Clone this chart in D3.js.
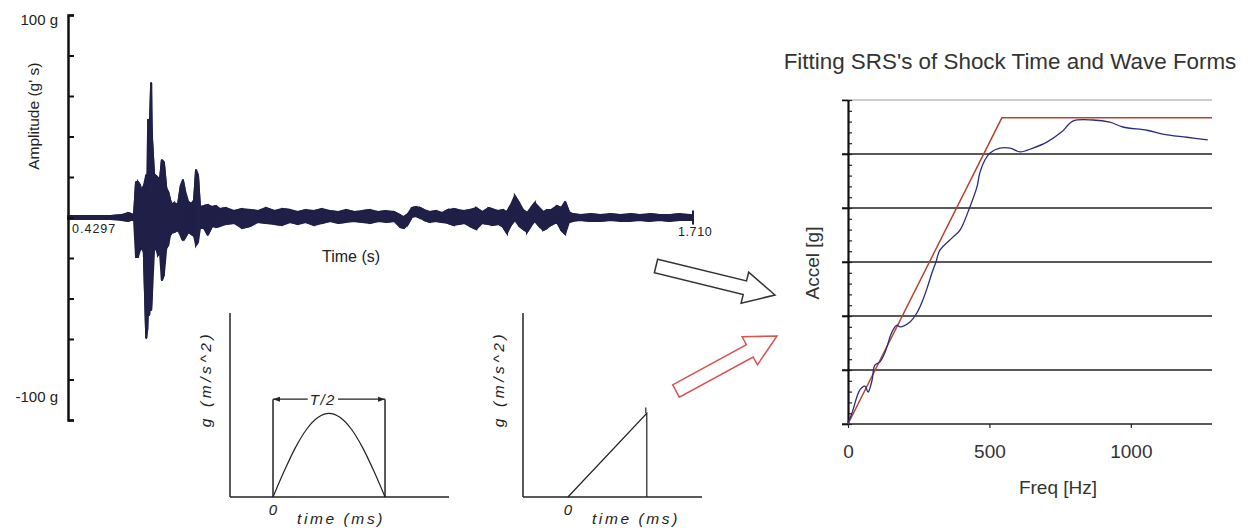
<!DOCTYPE html>
<html>
<head>
<meta charset="utf-8">
<script src="https://cdn.jsdelivr.net/npm/d3@7"></script>
<style>
  body { margin: 0; background: #fff; }
  svg { display: block; }
  text { font-family: "Liberation Sans", Arial, sans-serif; }
</style>
</head>
<body>
<div class="chart"></div>
<script>
// shock time history: time (s), upper / lower swing of the trace (g)
var sigT = [0.430, 0.454, 0.485, 0.516, 0.540, 0.553, 0.559, 0.565,
  0.569, 0.573, 0.577, 0.581, 0.585, 0.590, 0.592, 0.594, 0.596, 0.598, 0.600, 0.602,
  0.606, 0.610, 0.614, 0.618, 0.622, 0.626, 0.631, 0.635, 0.639, 0.643, 0.647, 0.655,
  0.661, 0.665, 0.669, 0.676, 0.682, 0.688, 0.692, 0.696, 0.700, 0.708, 0.716, 0.725,
  0.733, 0.741, 0.753, 0.770, 0.786, 0.803, 0.819, 0.835, 0.852, 0.868, 0.885, 0.901,
  0.917, 0.934, 0.950, 0.966, 0.983, 0.999, 1.016, 1.032, 1.048, 1.065, 1.081, 1.098,
  1.110, 1.118, 1.126, 1.134, 1.143, 1.151, 1.159, 1.171, 1.184, 1.196, 1.208, 1.220,
  1.229, 1.241, 1.253, 1.266, 1.278, 1.291, 1.298, 1.311, 1.321, 1.329, 1.337, 1.345,
  1.354, 1.362, 1.370, 1.378, 1.386, 1.395, 1.403, 1.411, 1.419, 1.431, 1.440, 1.448,
  1.456, 1.464, 1.479, 1.499, 1.520, 1.540, 1.561, 1.581, 1.601, 1.622, 1.642, 1.663,
  1.683, 1.704, 1.710];
var sigHi = [0.7, 0.7, 0.7, 0.7, 1.2, 2.2, 1.7, 1.2,
  17.5, 17.5, 16.0, 13.6, 15.6, 21.0, 18.5, 48.1, 48.1, 49.1, 66.4, 38.3,
  21.0, 20.5, 19.5, 18.5, 28.4, 27.4, 14.6, 12.6, 8.6, 6.2, 7.2, 6.2,
  16.0, 18.5, 13.6, 7.7, 6.7, 8.6, 23.5, 21.0, 5.2, 5.7, 6.2, 5.2,
  5.7, 4.2, 4.7, 3.2, 4.2, 3.7, 3.2, 4.7, 3.2, 4.2, 3.7, 2.7,
  3.7, 3.2, 4.2, 3.2, 2.7, 3.7, 2.7, 3.2, 3.7, 2.7, 3.2, 2.7,
  1.2, 0.2, 1.7, 4.7, 5.2, 4.7, 3.7, 2.7, 3.2, 2.2, 3.7, 4.2,
  3.7, 3.2, 3.7, 4.7, 2.7, 4.7, 4.2, 3.2, 3.7, 2.7, 6.2, 10.6,
  7.2, 3.7, 2.2, 4.7, 7.2, 4.7, 2.7, 3.7, 3.7, 5.7, 4.7, 7.7,
  2.7, 1.7, 1.2, 1.7, 1.2, 1.7, 1.2, 1.7, 1.2, 1.7, 1.2, 1.2,
  1.7, 1.2, 1.2];
var sigLo = [-0.7, -0.7, -0.7, -0.7, -1.2, -1.7, -1.2, -1.2,
  -19.5, -19.5, -16.0, -15.1, -17.0, -59.5, -55.6, -40.7, -48.1, -40.7, -45.7, -35.8,
  -16.0, -15.1, -18.5, -17.0, -30.9, -28.4, -15.1, -13.6, -8.6, -7.2, -7.2, -6.2,
  -9.1, -11.1, -10.1, -7.2, -8.1, -9.1, -13.6, -12.1, -5.2, -5.2, -8.6, -4.2,
  -4.7, -4.2, -3.2, -2.7, -5.2, -4.2, -2.2, -2.7, -3.2, -3.7, -2.2, -3.2,
  -2.2, -3.7, -2.7, -1.7, -2.7, -2.2, -1.7, -2.2, -2.7, -1.7, -2.2, -1.7,
  -4.7, -5.2, -3.2, 0.2, 0.7, -0.2, -1.2, -2.2, -1.7, -2.2, -2.7, -3.7,
  -3.2, -2.7, -4.2, -5.7, -2.7, -3.2, -3.7, -3.2, -4.7, -7.7, -3.7, -1.2,
  -4.2, -5.7, -7.2, -4.2, -1.7, -4.2, -6.2, -5.2, -3.7, -2.2, -6.2, -8.1,
  -2.2, -1.7, -1.2, -1.7, -1.7, -1.2, -1.7, -1.7, -1.2, -1.7, -1.2, -1.7,
  -1.2, -1.2, -1.2];
var ampTicks = [-100, -80, -60, -40, -20, 0, 20, 40, 60, 80, 100];
var timeLabels = ["0.4297", "1.710"];

// half-sine pulse (fraction of T/2, fraction of peak)
var sineT = [0, 0.1, 0.2, 0.3, 0.4, 0.5, 0.6, 0.7, 0.8, 0.9, 1];
var sineG = [0, 0.31, 0.59, 0.81, 0.95, 1.0, 0.95, 0.81, 0.59, 0.31, 0];

// terminal-peak sawtooth
var sawT = [0, 1, 1];
var sawG = [0, 1, 0];

// SRS: measured (blue) and fitted envelope (red)
var srsFreq = [0, 14, 42, 60, 71, 85, 95, 113, 131, 155, 173, 184, 219, 244, 265, 283, 297,
  311, 325, 371, 396, 431, 456, 466, 484, 502, 537, 573, 608, 654, 703, 756, 795, 866, 926,
  972, 1057, 1113, 1198, 1272];
var srsAccel = [0.02, 0.20, 0.63, 0.70, 0.59, 0.81, 1.09, 1.15, 1.33, 1.70, 1.83, 1.80, 1.89,
  2.06, 2.30, 2.57, 2.80, 3.00, 3.22, 3.46, 3.59, 4.02, 4.39, 4.65, 4.89, 5.02, 5.11, 5.11,
  5.04, 5.11, 5.22, 5.41, 5.61, 5.63, 5.59, 5.50, 5.44, 5.37, 5.31, 5.26];
var fitFreq = [0, 544, 1287];
var fitAccel = [0, 5.67, 5.67];
var freqTicks = [0, 500, 1000];
var accelGrid = [0, 1, 2, 3, 4, 5, 6];

var svg = d3.select(".chart").append("svg")
  .attr("width", 1250).attr("height", 528)
  .style("background", "#fff");

//---- time history
var x1 = d3.scaleLinear().domain([0.4297, 1.710]).range([68, 693]);
var y1 = d3.scaleLinear().domain([-100, 100]).range([420, 15]);
var sig = sigT.map(function(t, i) { return { t: t, hi: sigHi[i], lo: sigLo[i] }; });
var ink = "#1f1f48";

svg.append("path").datum(sig)
  .attr("d", d3.area().x(d => x1(d.t)).y0(d => y1(d.lo)).y1(d => y1(d.hi)))
  .attr("fill", ink).attr("stroke", ink).attr("stroke-width", 2)
  .attr("stroke-linejoin", "round");

var zig = [];
sig.forEach(function(d, i) {
  zig.push([d.t, i % 2 ? d.lo : d.hi]);
  zig.push([d.t, i % 2 ? d.hi : d.lo]);
});
svg.append("path").datum(zig)
  .attr("d", d3.line().x(d => x1(d[0])).y(d => y1(d[1])))
  .attr("fill", "none").attr("stroke", ink).attr("stroke-width", 2);

svg.append("line")
  .attr("x1", x1(1.710)).attr("x2", x1(1.710))
  .attr("y1", y1(3.5)).attr("y2", y1(-3.5))
  .attr("stroke", ink).attr("stroke-width", 2);

var ax1 = svg.append("g").attr("transform", "translate(" + x1.range()[0] + ",0)")
  .call(d3.axisRight(y1).tickValues(ampTicks).tickSize(6).tickFormat(""));
ax1.select(".domain").attr("stroke", "#111").attr("stroke-width", 2.5);
ax1.selectAll(".tick line").attr("stroke", "#111").attr("stroke-width", 2);

svg.append("text").attr("x", 58).attr("y", y1(100) + 10)
  .attr("text-anchor", "end").attr("font-size", 15).attr("fill", "#222").text("100 g");
svg.append("text").attr("x", 58).attr("y", y1(-88) + 6)
  .attr("text-anchor", "end").attr("font-size", 15).attr("fill", "#222").text("-100 g");
svg.append("text")
  .attr("transform", "translate(39," + y1(50) + ") rotate(-90)")
  .attr("text-anchor", "middle").attr("font-size", 15.5).attr("fill", "#222")
  .text("Amplitude (g' s)");
svg.append("text").attr("x", x1(0.4297) + 4).attr("y", y1(0) + 15)
  .attr("font-family", "'Liberation Serif', serif").attr("font-size", 12.5)
  .attr("letter-spacing", 1).attr("fill", "#222").text(timeLabels[0]);
svg.append("text").attr("x", x1(1.710) - 15).attr("y", y1(0) + 18)
  .attr("font-family", "'Liberation Serif', serif").attr("font-size", 12.5)
  .attr("letter-spacing", 0.6).attr("fill", "#222").text(timeLabels[1]);
svg.append("text").attr("x", 351).attr("y", 262)
  .attr("text-anchor", "middle").attr("font-size", 16).attr("fill", "#222").text("Time (s)");

//---- pulse insets
var ys = d3.scaleLinear().domain([0, 2.2]).range([497, 313]);
var xs1 = d3.scaleLinear().domain([-0.384, 1.571]).range([230, 449]);
var xs2 = d3.scaleLinear().domain([-0.57, 1.70]).range([523, 702]);

function inset(xs, labelX) {
  var g = svg.append("g").attr("stroke", "#222").attr("fill", "none").attr("stroke-width", 1.5);
  g.append("line").attr("x1", xs.range()[0]).attr("x2", xs.range()[0])
    .attr("y1", ys.range()[0]).attr("y2", ys.range()[1]);
  g.append("line").attr("x1", xs.range()[0]).attr("x2", xs.range()[1])
    .attr("y1", ys.range()[0]).attr("y2", ys.range()[0]);
  var lab = svg.append("g").attr("fill", "#222")
    .attr("font-family", "'DejaVu Sans', sans-serif").attr("font-style", "italic");
  lab.append("text").attr("x", xs(0)).attr("y", 515)
    .attr("text-anchor", "middle").attr("font-size", 15).text("0");
  lab.append("text").attr("x", xs(0) + 24).attr("y", 524)
    .attr("font-size", 15.5).attr("letter-spacing", 2.6).text("time (ms)");
  lab.append("text")
    .attr("transform", "translate(" + labelX + ",379) rotate(-90)")
    .attr("text-anchor", "middle").attr("font-size", 15.5).attr("letter-spacing", 3.6)
    .text("g (m/s^2)");
  return g;
}

var gi1 = inset(xs1, 211);
gi1.append("path")
  .datum(sineT.map((t, i) => [t, sineG[i]]))
  .attr("d", d3.line().x(d => xs1(d[0])).y(d => ys(d[1])).curve(d3.curveCardinal))
  .attr("stroke-width", 1.2);
// T/2 dimension
[0, 1].forEach(function(t) {
  gi1.append("line").attr("x1", xs1(t)).attr("x2", xs1(t))
    .attr("y1", ys(0)).attr("y2", ys(1.17));
});
gi1.append("line").attr("x1", xs1(0)).attr("x2", xs1(0.31))
  .attr("y1", ys(1.17)).attr("y2", ys(1.17)).attr("stroke-width", 1.2);
gi1.append("line").attr("x1", xs1(0.58)).attr("x2", xs1(1))
  .attr("y1", ys(1.17)).attr("y2", ys(1.17)).attr("stroke-width", 1.2);
[[0, 1], [1, -1]].forEach(function(a) {
  var px = xs1(a[0]), py = ys(1.17);
  svg.append("path")
    .attr("d", "M" + px + "," + py + "l" + (a[1] * 7) + ",-2.5v5z")
    .attr("fill", "#222");
});
svg.append("text").attr("x", xs1(0.445)).attr("y", ys(1.17) + 5.5)
  .attr("text-anchor", "middle").attr("font-family", "'DejaVu Sans', sans-serif")
  .attr("font-style", "italic").attr("font-size", 15).attr("letter-spacing", 1.5)
  .attr("fill", "#222").text("T/2");

var gi2 = inset(xs2, 504);
gi2.append("path")
  .datum(sawT.map((t, i) => [t, sawG[i]]))
  .attr("d", d3.line().x(d => xs2(d[0])).y(d => ys(d[1])))
  .attr("stroke-width", 1.2);
gi2.append("line").attr("x1", xs2(1) - 1).attr("x2", xs2(1) - 1)
  .attr("y1", ys(1)).attr("y2", ys(1.07)).attr("stroke-width", 1.2);

//---- arrows
function blockArrow(x0, y0, x1_, y1_, color) {
  var len = Math.hypot(x1_ - x0, y1_ - y0);
  var ang = Math.atan2(y1_ - y0, x1_ - x0) * 180 / Math.PI;
  var w = 7, hw = 16, hl = 31;
  var pts = [[0, -w], [len - hl, -w], [len - hl, -hw], [len, 0], [len - hl, hw], [len - hl, w], [0, w]];
  svg.append("path")
    .attr("d", "M" + pts.map(p => p.join(",")).join("L") + "Z")
    .attr("transform", "translate(" + x0 + "," + y0 + ") rotate(" + ang + ")")
    .attr("fill", "#fff").attr("stroke", color).attr("stroke-width", 1.5);
}
blockArrow(656, 266, 775, 295, "#333");
blockArrow(676, 391, 777, 336, "#d9534f");

//---- SRS chart
var x3 = d3.scaleLinear().domain([0, 1287]).range([848, 1212]);
var y3 = d3.scaleLinear().domain([0, 6]).range([424, 100]);

svg.append("text").attr("x", 1010).attr("y", 69)
  .attr("text-anchor", "middle").attr("font-size", 22.4).attr("fill", "#333")
  .text("Fitting SRS's of Shock Time and Wave Forms");

svg.append("g").selectAll("line").data(accelGrid).enter().append("line")
  .attr("x1", 842).attr("x2", x3.range()[1])
  .attr("y1", d => y3(d)).attr("y2", d => y3(d))
  .attr("stroke", d => d === 6 ? "#9a9a9a" : "#222")
  .attr("stroke-width", d => d === 6 ? 1.2 : 1.6);

var minor = svg.append("g").attr("transform", "translate(" + x3(0) + ",0)")
  .call(d3.axisRight(y3).tickValues(d3.range(0, 6.01, 0.2)).tickSize(4).tickFormat(""));
minor.select(".domain").remove();
minor.selectAll(".tick line").attr("stroke", "#222").attr("stroke-width", 1.2);

var yAx = svg.append("g").attr("transform", "translate(" + x3(0) + ",0)")
  .call(d3.axisLeft(y3).tickValues(accelGrid).tickSize(6).tickSizeOuter(0).tickFormat(""));
yAx.select(".domain").attr("stroke", "#111").attr("stroke-width", 2.2);
yAx.selectAll(".tick line").attr("stroke", "#111").attr("stroke-width", 1.6);

var xAx = svg.append("g").attr("transform", "translate(0," + y3(0) + ")")
  .call(d3.axisBottom(x3).tickValues(freqTicks).tickFormat(d3.format("d"))
    .tickSize(4).tickPadding(17));
xAx.select(".domain").remove();
xAx.selectAll(".tick line").attr("stroke", "#222").attr("stroke-width", 1.2);
xAx.selectAll(".tick text").attr("font-size", 19).attr("fill", "#333")
  .attr("font-family", "'Liberation Sans', Arial, sans-serif");

svg.append("path")
  .datum(fitFreq.map((f, i) => [f, fitAccel[i]]))
  .attr("d", d3.line().x(d => x3(d[0])).y(d => y3(d[1])))
  .attr("fill", "none").attr("stroke", "#b5452f").attr("stroke-width", 1.5);
svg.append("path")
  .datum(srsFreq.map((f, i) => [f, srsAccel[i]]))
  .attr("d", d3.line().x(d => x3(d[0])).y(d => y3(d[1])).curve(d3.curveCatmullRom))
  .attr("fill", "none").attr("stroke", "#2a2a80").attr("stroke-width", 1.3);

svg.append("text").attr("x", 1058).attr("y", 494)
  .attr("text-anchor", "middle").attr("font-size", 19).attr("fill", "#333").text("Freq [Hz]");
svg.append("text")
  .attr("transform", "translate(819,263) rotate(-90)")
  .attr("text-anchor", "middle").attr("font-size", 19).attr("fill", "#333").text("Accel [g]");
</script>
</body>
</html>
